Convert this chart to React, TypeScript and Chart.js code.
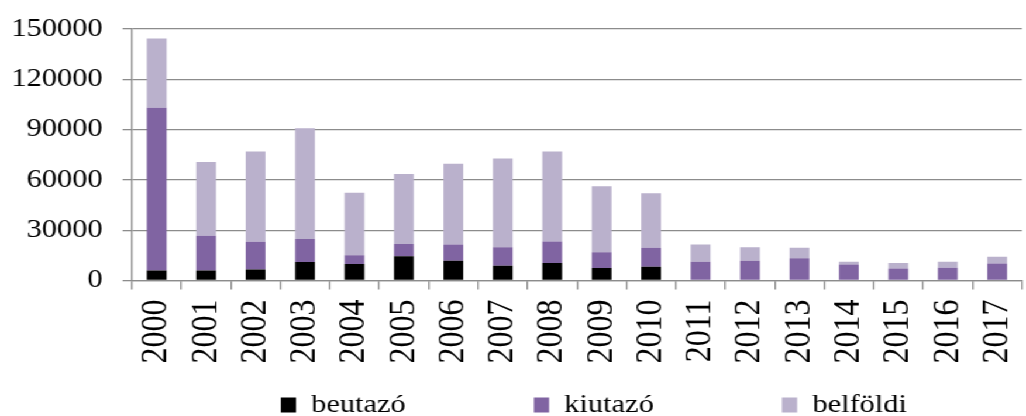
import React, { useEffect, useRef } from "react";
import { Chart, registerables } from "chart.js";

Chart.register(...registerables);

const years = ["2000","2001","2002","2003","2004","2005","2006","2007","2008","2009","2010","2011","2012","2013","2014","2015","2016","2017"];
const beutazo = [6000, 6000, 6500, 11000, 9800, 14500, 11800, 8800, 10400, 7400, 8200, 0, 0, 0, 0, 0, 0, 0];
const kiutazo = [97000, 20700, 16600, 13700, 5300, 7200, 9700, 11100, 12900, 9500, 11300, 11200, 11800, 13200, 9600, 7200, 7600, 10200];
const belfoldi = [41400, 44000, 53800, 66100, 37300, 41800, 48200, 52800, 53600, 39300, 32500, 10200, 8000, 6400, 1600, 3200, 3600, 4000];
const seriesNames = ["beutazó", "kiutazó", "belföldi"];
const seriesColors = ["#000000", "#8064A2", "#BAB1CC"];
const yMax = 150000;
const yStep = 30000;

const W = 877;
const H = 416;
const STRETCH = 1026 / W;
const FONT = "'Liberation Serif', 'Times New Roman', serif";
const GRID = "#8C8C8C";
const LEGEND_GAP = "              ";

export default function App() {
  const ref = useRef<HTMLCanvasElement | null>(null);
  useEffect(() => {
    if (!ref.current) return;
    const shift = {
      id: "legendShift",
      afterLayout(chart: any) {
        if (chart.legend) {
          chart.legend.left += 14.5;
          chart.legend.right += 14.5;
        }
      },
    };
    const chart = new Chart(ref.current, {
      type: "bar",
      data: {
        labels: years,
        datasets: [beutazo, kiutazo, belfoldi].map((d, i) => ({
          label: seriesNames[i],
          data: d,
          backgroundColor: seriesColors[i],
          borderWidth: 0,
          barPercentage: 0.4,
          categoryPercentage: 1,
        })),
      },
      options: {
        animation: false,
        responsive: false,
        layout: { padding: { top: 29, left: 10, right: 3.5, bottom: -12 } },
        scales: {
          x: {
            stacked: true,
            afterFit: (s: any) => {
              s.paddingLeft = 0;
              s.paddingRight = 0;
            },
            grid: { display: true, drawOnChartArea: false, color: GRID, lineWidth: 1.3, tickLength: 9, offset: true },
            border: { display: true, color: GRID, width: 1.3 },
            ticks: {
              color: "#000",
              font: { family: FONT, size: 32 },
              minRotation: 90,
              maxRotation: 90,
              padding: 10,
              autoSkip: false,
            },
          },
          y: {
            stacked: true,
            min: 0,
            max: yMax,
            afterFit: (s: any) => {
              s.width = 102.8;
              s.paddingTop = 0;
              s.paddingBottom = 0;
            },
            grid: { color: GRID, lineWidth: 1.3, tickLength: 8 },
            border: { display: true, color: GRID, width: 1.3 },
            ticks: {
              stepSize: yStep,
              color: "#000",
              font: { family: FONT, size: 26 },
              padding: 17,
              callback: (v: any) => String(v),
            },
          },
        },
        plugins: {
          legend: {
            position: "bottom",
            fullSize: false,
            labels: {
              color: "#000",
              font: { family: FONT, size: 26 },
              boxWidth: 13,
              boxHeight: 15,
              padding: 18.5,
              generateLabels: (c: any) =>
                Chart.defaults.plugins.legend.labels.generateLabels(c).map((it: any, i: number, arr: any[]) => ({
                  ...it,
                  text: i < arr.length - 1 ? it.text + LEGEND_GAP : it.text,
                })),
            },
          },
          tooltip: { enabled: false },
        },
      },
      plugins: [shift],
    } as any);
    return () => chart.destroy();
  }, []);
  return (
    <div
      style={{
        position: "fixed",
        left: 0,
        top: 0,
        width: W,
        height: H,
        transform: `scaleX(${STRETCH})`,
        transformOrigin: "0 0",
        background: "#fff",
      }}
    >
      <canvas ref={ref} width={W} height={H} style={{ display: "block", width: W, height: H }} />
    </div>
  );
}
